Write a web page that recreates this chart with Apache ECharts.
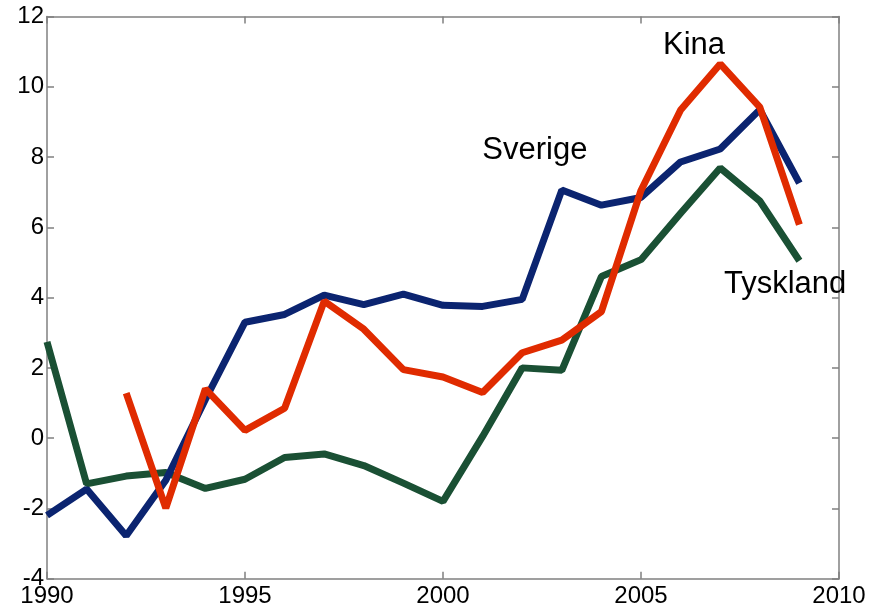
<!DOCTYPE html>
<html><head><meta charset="utf-8">
<script src="https://cdn.jsdelivr.net/npm/echarts@6/dist/echarts.min.js"></script>
<style>html,body{margin:0;padding:0;background:#fff}#c{width:881px;height:612px}</style>
</head><body><div id="c"></div>
<script>
const years = [1990,1991,1992,1993,1994,1995,1996,1997,1998,1999,2000,2001,2002,2003,2004,2005,2006,2007,2008,2009];
const sverige = [-2.2,-1.45,-2.78,-1.2,1.1,3.3,3.52,4.07,3.8,4.1,3.78,3.75,3.95,7.06,6.63,6.85,7.86,8.23,9.35,7.26];
const kina = [null,null,1.28,-1.99,1.4,0.22,0.85,3.9,3.1,1.95,1.74,1.3,2.43,2.79,3.6,7.05,9.34,10.65,9.42,6.08];
const tyskland = [2.74,-1.3,-1.08,-0.98,-1.43,-1.17,-0.55,-0.45,-0.78,-1.28,-1.8,0.05,2.0,1.93,4.6,5.08,6.4,7.69,6.75,5.05];
const xTicks = [1990,1995,2000,2005,2010];
const yTicks = [-4,-2,0,2,4,6,8,10,12];
const annotations = [
  {text:'Sverige', x:2002.32, y:8.2},
  {text:'Kina', x:2006.34, y:11.19},
  {text:'Tyskland', x:2008.64, y:4.36}
];
const FONT = '"Liberation Sans", Arial, sans-serif';
const axisLine = {show:true, onZero:false, lineStyle:{color:'#808080', width:1.5}};
const axisTick = {show:true, inside:true, length:7, lineStyle:{color:'#808080', width:1.5}};
const pair = a => years.map((y,i)=>[y,a[i]]);
const chart = echarts.init(document.getElementById('c'), null, {renderer:'canvas'});
const option = {
  animation:false,
  backgroundColor:'#fff',
  grid:{left:47, right:42, top:16.5, bottom:33.3, containLabel:false},
  xAxis:[
    {type:'value', min:1990, max:2010, interval:5, position:'bottom',
     axisLine, axisTick, splitLine:{show:false},
     axisLabel:{color:'#000', fontSize:24, fontFamily:FONT, margin:6, showMinLabel:true, showMaxLabel:true,
       formatter: v => String(v)}},
    {type:'value', min:1990, max:2010, interval:5, position:'top',
     axisLine, axisTick, splitLine:{show:false}, axisLabel:{show:false}}
  ],
  yAxis:[
    {type:'value', min:-4, max:12, interval:2, position:'left',
     axisLine, axisTick, splitLine:{show:false},
     axisLabel:{color:'#000', fontSize:24, fontFamily:FONT, margin:3, formatter: v => String(v)}},
    {type:'value', min:-4, max:12, interval:2, position:'right',
     axisLine, axisTick, splitLine:{show:false}, axisLabel:{show:false}}
  ],
  series:[
    {name:'Sverige', type:'line', data:pair(sverige), showSymbol:false, symbol:'none',
     lineStyle:{color:'#0b2470', width:7}, z:3},
    {name:'Tyskland', type:'line', data:pair(tyskland), showSymbol:false, symbol:'none',
     lineStyle:{color:'#1a5034', width:7}, z:2},
    {name:'Kina', type:'line', data:pair(kina), showSymbol:false, symbol:'none', connectNulls:false,
     lineStyle:{color:'#e02b00', width:7}, z:4}
  ]
};
chart.setOption(option);
chart.setOption({
  graphic: annotations.map(a => {
    const p = chart.convertToPixel({xAxisIndex:0, yAxisIndex:0}, [a.x, a.y]);
    return {type:'text', x:p[0], y:p[1], z:10,
      style:{text:a.text, fill:'#000', font:'31px ' + FONT, textAlign:'center', textVerticalAlign:'middle'}};
  })
});
</script></body></html>
